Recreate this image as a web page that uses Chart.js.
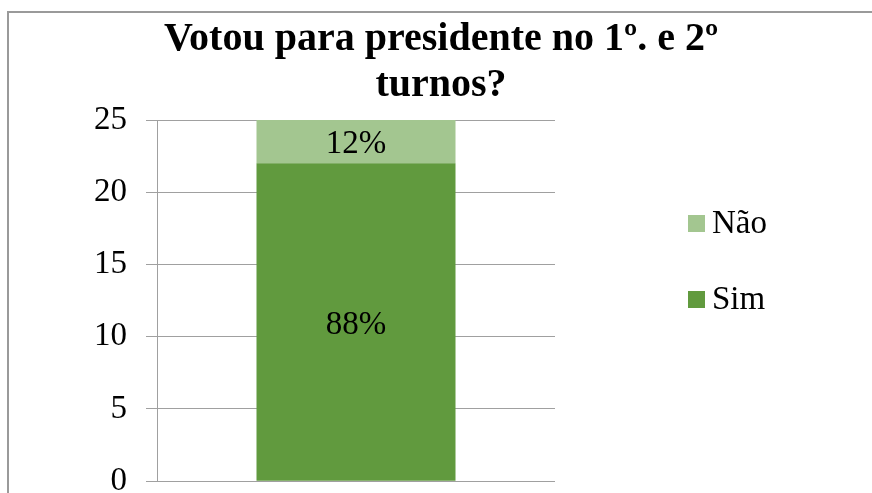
<!DOCTYPE html>
<html>
<head>
<meta charset="utf-8">
<script src="https://cdn.jsdelivr.net/npm/chart.js@4"></script>
<style>
  html, body { margin: 0; padding: 0; width: 872px; height: 493px; overflow: hidden; background: #fff; }
  #moldura { position: absolute; left: 7px; top: 11px; width: 900px; height: 520px; border-left: 2px solid #9a9a9a; border-top: 2px solid #9a9a9a; }
  #grafico { position: absolute; left: 0; top: 0; }
</style>
</head>
<body>
<div id="moldura"></div>
<canvas id="grafico" width="872" height="520"></canvas>
<script>
document.addEventListener('DOMContentLoaded', function() {
    // Dados do gráfico
    const categorias = [''];
    const valoresSim = [22];
    const valoresNao = [3];
    const ticksY = [0, 5, 10, 15, 20, 25];
    const tituloLinhas = ['Votou para presidente no 1º. e 2º', 'turnos?'];

    const corSim = '#619a3e';
    const corNao = '#a3c690';
    const corGrade = '#a0a0a0';
    const fonteSerif = "'Liberation Serif', 'Times New Roman', serif";

    // Rótulos de porcentagem dentro das barras
    const rotulosPlugin = {
        id: 'rotulos',
        afterDatasetsDraw(chart) {
            const ctx = chart.ctx;
            ctx.save();
            ctx.font = '33px ' + fonteSerif;
            ctx.fillStyle = '#000';
            ctx.textAlign = 'center';
            ctx.textBaseline = 'alphabetic';
            chart.data.labels.forEach(function(_, i) {
                let total = 0;
                chart.data.datasets.forEach(function(ds) { total += ds.data[i]; });
                chart.data.datasets.forEach(function(ds, d) {
                    const barra = chart.getDatasetMeta(d).data[i];
                    const pct = Math.round(ds.data[i] / total * 100) + '%';
                    ctx.fillText(pct, barra.x, (barra.y + barra.base) / 2 + 11.5);
                });
            });
            ctx.restore();
        }
    };

    // Legenda à direita (ordem invertida, como no original)
    const legendaPlugin = {
        id: 'legendaDireita',
        afterDraw(chart) {
            const ctx = chart.ctx;
            const itens = chart.data.datasets.slice().reverse();
            const linhaBase = [233, 309];
            ctx.save();
            ctx.font = '33px ' + fonteSerif;
            ctx.textBaseline = 'alphabetic';
            ctx.textAlign = 'left';
            itens.forEach(function(ds, i) {
                ctx.fillStyle = ds.backgroundColor;
                ctx.fillRect(688, linhaBase[i] - 18, 17, 17);
                ctx.fillStyle = '#000';
                ctx.fillText(ds.label, 712, linhaBase[i]);
            });
            ctx.restore();
        }
    };

    new Chart(document.getElementById('grafico'), {
        type: 'bar',
        data: {
            labels: categorias,
            datasets: [
                { label: 'Sim', data: valoresSim, backgroundColor: corSim },
                { label: 'Não', data: valoresNao, backgroundColor: corNao }
            ]
        },
        options: {
            responsive: false,
            animation: false,
            devicePixelRatio: 1,
            layout: { padding: { left: 10, right: 0, top: 0, bottom: 37 } },
            categoryPercentage: 1,
            barPercentage: 0.5,
            plugins: {
                legend: { display: false },
                tooltip: { enabled: false },
                title: {
                    display: true,
                    text: tituloLinhas,
                    color: '#000',
                    font: { family: fonteSerif, size: 40, weight: 'bold', lineHeight: 46 / 40 },
                    padding: { top: 17, bottom: 11 }
                }
            },
            scales: {
                x: {
                    stacked: true,
                    display: false
                },
                y: {
                    stacked: true,
                    min: 0,
                    max: 25,
                    afterBuildTicks: function(scale) {
                        scale.ticks = ticksY.map(function(v) { return { value: v }; });
                    },
                    afterFit: function(scale) { scale.width = 147; },
                    grid: { color: corGrade, tickLength: 11, lineWidth: 1 },
                    border: { display: true, color: corGrade },
                    ticks: {
                        color: '#000',
                        padding: 19,
                        font: { family: fonteSerif, size: 33 }
                    }
                },
                espaco: {
                    type: 'linear',
                    position: 'right',
                    display: true,
                    grid: { display: false },
                    border: { display: false },
                    ticks: { display: false },
                    afterFit: function(scale) { scale.width = 317; }
                }
            }
        },
        plugins: [rotulosPlugin, legendaPlugin]
    });
});
</script>
</body>
</html>
